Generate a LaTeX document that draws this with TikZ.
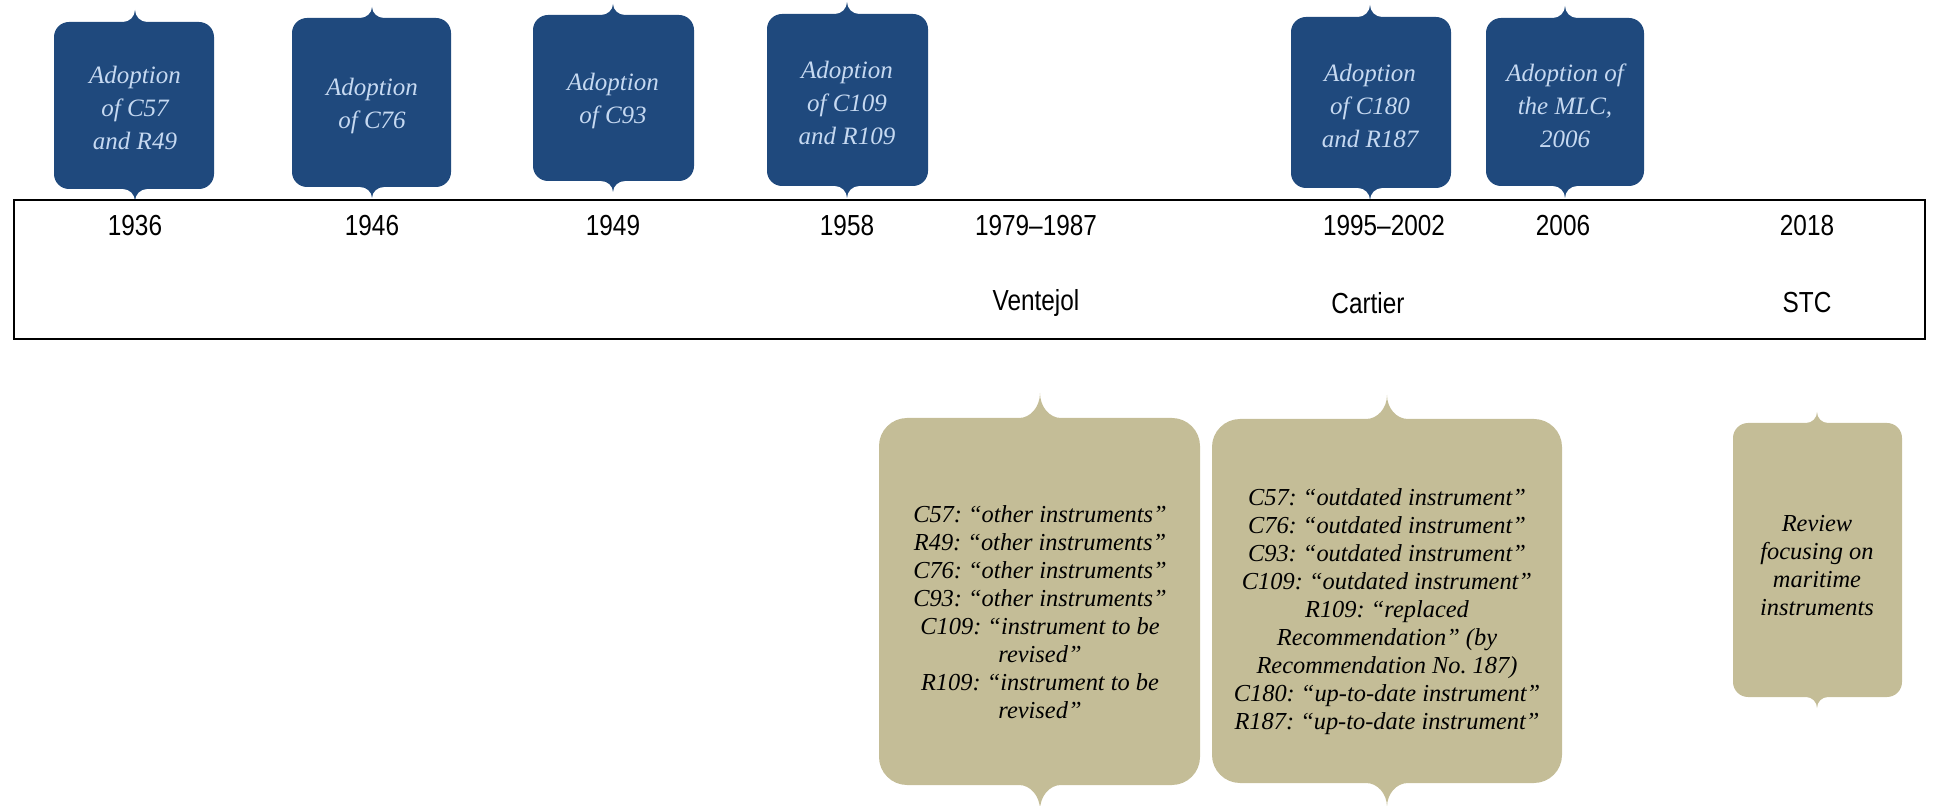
\documentclass[tikz,border=0pt]{standalone}
\usepackage{fontspec}
\setmainfont{Liberation Serif}
\newfontfamily\yearfont[FakeStretch=0.84]{Liberation Sans}
\usetikzlibrary{positioning}
\frenchspacing

\definecolor{ilonavy}{HTML}{1F497D}
\definecolor{ilolight}{HTML}{C6D9F1}
\definecolor{ilotan}{HTML}{C4BD97}

% callout box: fill, left, top, right, bottom, tip x, radius, notch half width, notch height
\newcommand{\notchbox}[9]{%
  \fill[#1] (#6+#8,#3) -- (#4-#7,#3)
    .. controls (#4-0.45*#7,#3) and (#4,#3+0.45*#7) .. (#4,#3+#7)
    -- (#4,#5-#7)
    .. controls (#4,#5-0.45*#7) and (#4-0.45*#7,#5) .. (#4-#7,#5)
    -- (#6+#8,#5)
    .. controls (#6+0.45*#8,#5) and (#6,#5+0.45*#9) .. (#6,#5+#9)
    .. controls (#6,#5+0.45*#9) and (#6-0.45*#8,#5) .. (#6-#8,#5)
    -- (#2+#7,#5)
    .. controls (#2+0.45*#7,#5) and (#2,#5-0.45*#7) .. (#2,#5-#7)
    -- (#2,#3+#7)
    .. controls (#2,#3+0.45*#7) and (#2+0.45*#7,#3) .. (#2+#7,#3)
    -- (#6-#8,#3)
    .. controls (#6-0.45*#8,#3) and (#6,#3-0.45*#9) .. (#6,#3-#9)
    .. controls (#6,#3-0.45*#9) and (#6+0.45*#8,#3) .. (#6+#8,#3) -- cycle;}

\tikzset{
  bluetxt/.style={align=center, text=ilolight, font=\fontsize{12.5}{16.5}\selectfont\itshape},
  tantxt/.style={align=center, text=black, font=\fontsize{12.2}{14}\selectfont\itshape},
  yeartxt/.style={font=\yearfont\fontsize{14.5}{16}\selectfont}
}

\begin{document}
\begin{tikzpicture}[x=0.5pt, y=-0.5pt]
    \useasboundingbox (0,0) rectangle (1933,806);

    % adoption boxes
    \notchbox{ilonavy}{54}{22}{214}{189}{135}{15}{12}{12}
    \notchbox{ilonavy}{292}{18}{451}{187}{372}{15}{12}{11}
    \notchbox{ilonavy}{533}{15}{694}{181}{613}{15}{12}{11}
    \notchbox{ilonavy}{767}{14}{928}{186}{847}{15}{12}{12}
    \notchbox{ilonavy}{1291}{17}{1451}{188}{1370}{15}{12}{12}
    \notchbox{ilonavy}{1486}{18}{1644}{186}{1565}{15}{12}{12}

    \node[bluetxt] (adopt1) at (135,108) {Adoption\\of C57\\and R49};
    \node[bluetxt] (adopt2) at (372,106) {Adoption\\of C76};
    \node[bluetxt] (adopt3) at (613,101) {Adoption\\of C93};
    \node[bluetxt] (adopt4) at (847,103) {Adoption\\of C109\\and R109};
    \node[bluetxt] (adopt5) at (1370,106) {Adoption\\of C180\\and R187};
    \node[bluetxt] (adopt6) at (1565,106) {Adoption of\\the MLC,\\2006};

    % timeline band
    \draw[line width=1.2pt] (14,200) rectangle (1925,339);

    \node[yeartxt] (y1936) at (135,226) {1936};
    \node[yeartxt] (y1946) at (372,226) {1946};
    \node[yeartxt] (y1949) at (613,226) {1949};
    \node[yeartxt] (y1958) at (847,226) {1958};
    \node[yeartxt] (y1979) at (1036,226) {1979–1987};
    \node[yeartxt] (y1995) at (1384,226) {1995–2002};
    \node[yeartxt] (y2006) at (1563,226) {2006};
    \node[yeartxt] (y2018) at (1807,226) {2018};

    \node[yeartxt] (ventejol) at (1036,303) {Ventejol};
    \node[yeartxt] (cartier) at (1368,303) {Cartier};
    \node[yeartxt] (stc) at (1807,303) {STC};

    % review boxes
    \notchbox{ilotan}{879}{418}{1200}{785}{1040}{28}{21}{25}
    \notchbox{ilotan}{1212}{419}{1562}{783}{1387}{28}{21}{24}
    \notchbox{ilotan}{1733}{423}{1902}{697}{1817}{15}{11}{11}

    \node[tantxt] (review1) at (1040,612) {C57: “other instruments”\\R49: “other instruments”\\C76: “other instruments”\\C93: “other instruments”\\C109: “instrument to be\\revised”\\R109: “instrument to be\\revised”};
    \node[tantxt] (review2) at (1387,612) {C57: “outdated instrument”\\C76: “outdated instrument”\\C93: “outdated instrument”\\C109: “outdated instrument”\\R109: “replaced\\Recommendation” (by\\Recommendation No. 187)\\C180: “up-to-date instrument”\\R187: “up-to-date instrument”};
    \node[tantxt] (review3) at (1817,566) {Review\\focusing on\\maritime\\instruments};
\end{tikzpicture}
\end{document}
